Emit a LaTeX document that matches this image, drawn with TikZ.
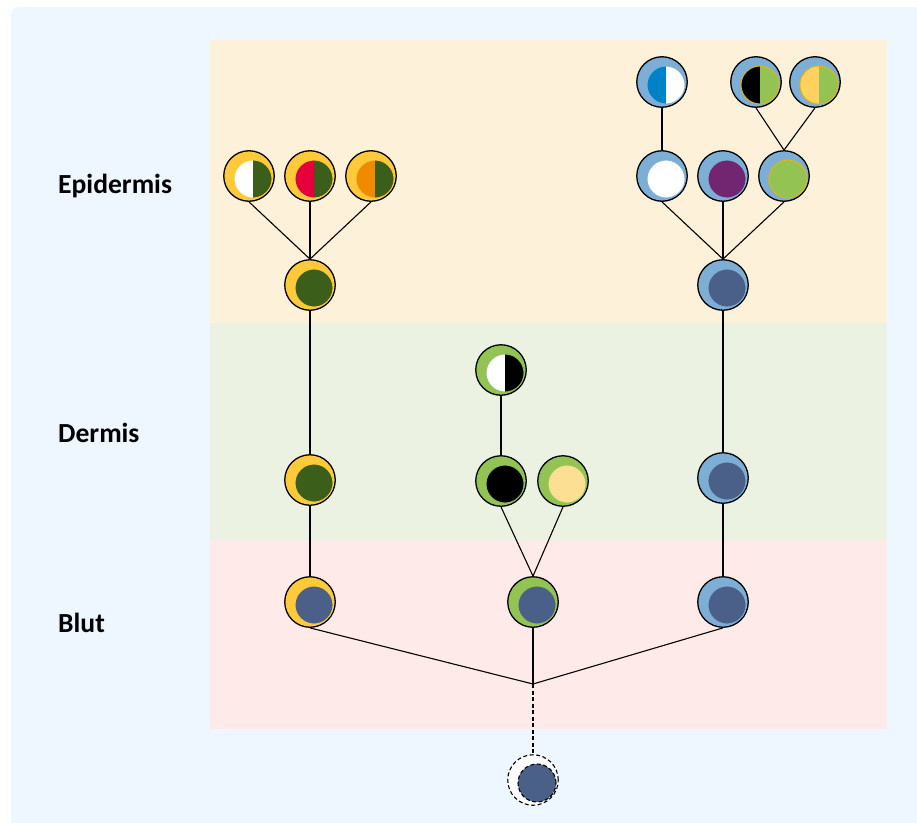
\documentclass[tikz,border=0pt]{standalone}
\usepackage{fontspec}
\setmainfont{Carlito}
\definecolor{bgc}{RGB}{238,246,255}
\definecolor{epic}{RGB}{254,241,217}
\definecolor{derc}{RGB}{235,242,226}
\definecolor{bluc}{RGB}{254,235,233}
\definecolor{cY}{RGB}{255,202,58}
\definecolor{cG}{RGB}{146,195,83}
\definecolor{cB}{RGB}{124,174,214}
\definecolor{dkg}{RGB}{59,94,26}
\definecolor{red1}{RGB}{228,0,58}
\definecolor{ora}{RGB}{240,138,0}
\definecolor{navy}{RGB}{74,96,137}
\definecolor{blu1}{RGB}{0,130,200}
\definecolor{pur}{RGB}{114,38,114}
\definecolor{yel2}{RGB}{255,210,95}
\definecolor{pale}{RGB}{252,223,147}
\definecolor{gold}{RGB}{240,180,0}
\tikzset{
  cellnode/.style={circle, draw=black, line width=1.3bp, minimum size=50.5bp, inner sep=0pt},
  conn/.style={line width=1.1bp, draw=black},
  dashy/.style={dash pattern=on 4bp off 2.5bp},
  lab/.style={anchor=base west, font=\bfseries\fontsize{27.6bp}{32bp}\selectfont, inner sep=0pt}
}
% full inner: name, pos, outer, inner, border
\newcommand\cellfull[5]{%
  \node[cellnode, fill=#3] (#1) at (#2) {};
  \begin{scope}[shift={(#1.center)}]
    \filldraw[fill=#4, draw=#5, line width=0.9bp] (4,3) circle (19bp);
  \end{scope}}
% half inner: name, pos, outer, left, right, border
\newcommand\cellhalf[6]{%
  \node[cellnode, fill=#3] (#1) at (#2) {};
  \begin{scope}[shift={(#1.center)}]
    \begin{scope}
      \clip (4,3) circle (19bp);
      \fill[#4] (-16,-17) rectangle (4,23);
      \fill[#5] (4,-17) rectangle (24,23);
    \end{scope}
    \draw[#6, line width=0.9bp] (4,3) circle (19bp);
  \end{scope}}
\begin{document}
\begin{tikzpicture}[x=1bp,y=-1bp]
\useasboundingbox (0,0) rectangle (917,823);
\clip (0,0) rectangle (917,823);
\fill[bgc, rounded corners=8bp] (11,7) rectangle (940,846);
\fill[epic] (210,40) rectangle (887,323);
\fill[derc] (210,323) rectangle (887,540);
\fill[bluc] (210,540) rectangle (887,729);

\node[lab] (tE) at (58,193) {Epidermis};
\node[lab] (tD) at (58,442) {Dermis};
\node[lab] (tB) at (58,632) {Blut};

% left column
\cellhalf{e1}{249,176}{cY}{white}{dkg}{cY}
\cellhalf{e2}{310,176}{cY}{red1}{dkg}{cY}
\cellhalf{e3}{371,176}{cY}{ora}{dkg}{cY}
\cellfull{e4}{310,285}{cY}{dkg}{cY}
\cellfull{d1}{310,480}{cY}{dkg}{cY}
\cellfull{b1}{310,602}{cY}{navy}{cY}

% middle column
\cellhalf{m1}{501,370}{cG}{white}{black}{cG}
\cellfull{m2}{501,481}{cG}{black}{cG}
\cellfull{m3}{563,481}{cG}{pale}{cG}
\cellfull{b2}{533,602}{cG}{navy}{cG}

% right column
\cellhalf{r1}{662,82}{cB}{blu1}{white}{cB}
\cellhalf{r2}{756,82}{cB}{black}{cG}{gold}
\cellhalf{r3}{815,82}{cB}{yel2}{cG}{gold}
\cellfull{r4}{662,176}{cB}{white}{cB}
\cellfull{r5}{723,176}{cB}{pur}{cB}
\cellfull{r6}{784,176}{cB}{cG}{gold}
\cellfull{r7}{723,285}{cB}{navy}{cB}
\cellfull{d3}{723,478}{cB}{navy}{cB}
\cellfull{b3}{723,602}{cB}{navy}{cB}

% root
\node[cellnode, fill=white, dashy, line width=1.1bp] (root) at (533,780) {};
\begin{scope}[shift={(root.center)}]
  \filldraw[fill=navy, draw=black, dashy, line width=1.1bp] (4,3) circle (19bp);
\end{scope}

\coordinate (j) at (533,684);

% connectors
\draw[conn] (e1.south) -- (e4.north);
\draw[conn] (e2.south) -- (e4.north);
\draw[conn] (e3.south) -- (e4.north);
\draw[conn] (e4.south) -- (d1.north);
\draw[conn] (d1.south) -- (b1.north);
\draw[conn] (m1.south) -- (m2.north);
\draw[conn] (m2.south) -- (b2.north);
\draw[conn] (m3.south) -- (b2.north);
\draw[conn] (r1.south) -- (r4.north);
\draw[conn] (r2.south) -- (r6.north);
\draw[conn] (r3.south) -- (r6.north);
\draw[conn] (r4.south) -- (r7.north);
\draw[conn] (r5.south) -- (r7.north);
\draw[conn] (r6.south) -- (r7.north);
\draw[conn] (r7.south) -- (d3.north);
\draw[conn] (d3.south) -- (b3.north);
\draw[conn] (b1.south) -- (j);
\draw[conn] (b2.south) -- (j);
\draw[conn] (b3.south) -- (j);
\draw[conn, dashy] (j) -- (root.north);
\end{tikzpicture}
\end{document}
